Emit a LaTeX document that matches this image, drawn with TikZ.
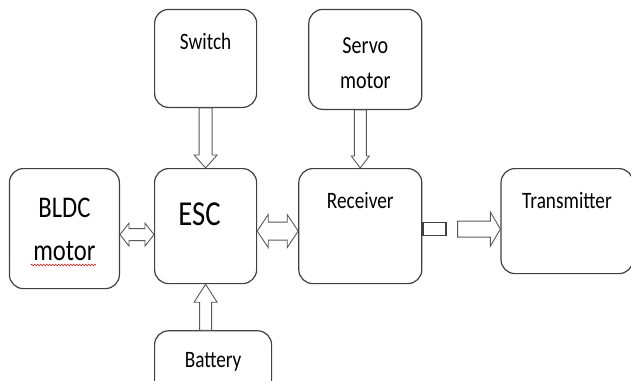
\documentclass[tikz,border=0pt]{standalone}
\usepackage{fontspec}
\setmainfont{Carlito}[FakeStretch=0.82]
\usetikzlibrary{positioning}
\usetikzlibrary{calc}
\usetikzlibrary{decorations.pathmorphing}

\begin{document}
\begin{tikzpicture}[x=1pt, y=-1pt]
	\tikzset{
		blocknode/.style={rectangle, rounded corners=14pt, draw=black!75, line width=1.2pt, inner sep=0pt},
		blocktext/.style={anchor=base, inner sep=0pt, align=center, text=black, font=\fontsize{23.5}{34}\selectfont},
		arrowline/.style={draw=black!65, line width=0.9pt, fill=white},
		blk shaft/.store in=\shaftw, blk head/.store in=\headw, blk tip/.store in=\tipl,
		blk shaft=6pt, blk head=11pt, blk tip=12pt,
		single block/.style={arrowline, to path={
			($(\tikztostart)!\shaftw!90:(\tikztotarget)$)
			-- ($($(\tikztotarget)!\tipl!(\tikztostart)$)!\shaftw!-90:(\tikztostart)$)
			-- ($($(\tikztotarget)!\tipl!(\tikztostart)$)!\headw!-90:(\tikztostart)$)
			-- (\tikztotarget)
			-- ($($(\tikztotarget)!\tipl!(\tikztostart)$)!\headw!90:(\tikztostart)$)
			-- ($($(\tikztotarget)!\tipl!(\tikztostart)$)!\shaftw!90:(\tikztostart)$)
			-- ($(\tikztostart)!\shaftw!-90:(\tikztotarget)$)
			-- cycle}},
		double block/.style={arrowline, to path={
			(\tikztostart)
			-- ($($(\tikztostart)!\tipl!(\tikztotarget)$)!\headw!90:(\tikztotarget)$)
			-- ($($(\tikztostart)!\tipl!(\tikztotarget)$)!\shaftw!90:(\tikztotarget)$)
			-- ($($(\tikztotarget)!\tipl!(\tikztostart)$)!\shaftw!-90:(\tikztostart)$)
			-- ($($(\tikztotarget)!\tipl!(\tikztostart)$)!\headw!-90:(\tikztostart)$)
			-- (\tikztotarget)
			-- ($($(\tikztotarget)!\tipl!(\tikztostart)$)!\headw!90:(\tikztostart)$)
			-- ($($(\tikztotarget)!\tipl!(\tikztostart)$)!\shaftw!90:(\tikztostart)$)
			-- ($($(\tikztostart)!\tipl!(\tikztotarget)$)!\shaftw!-90:(\tikztotarget)$)
			-- ($($(\tikztostart)!\tipl!(\tikztotarget)$)!\headw!-90:(\tikztotarget)$)
			-- cycle}},
	}
	\useasboundingbox (0,0) rectangle (631,380);
	\clip (0,0) rectangle (631,380);

	\node[blocknode, minimum width=102pt, minimum height=115pt, anchor=north west,
		label={[blocktext, font=\fontsize{35}{35}\selectfont, xshift=-6pt, yshift=-57pt]north:ESC}] (esc) at (154,168) {};
	\node[blocknode, minimum width=102pt, minimum height=98pt, above=60pt of esc,
		label={[blocktext, yshift=-41pt]north:Switch}] (switch) {};
	\node[blocknode, minimum width=117pt, minimum height=66pt, below=46pt of esc.south west, anchor=north west,
		label={[blocktext, yshift=-37pt]north:Battery}] (battery) {};
	\node[blocknode, minimum width=110pt, minimum height=120pt, left=34pt of esc.north west, anchor=north east,
		label={[blocktext, font=\fontsize{30}{43}\selectfont, yshift=-92pt]north:BLDC\\motor}] (bldc) {};
	\node[blocknode, minimum width=123pt, minimum height=115pt, right=41pt of esc.north east, anchor=north west,
		label={[blocktext, yshift=-40pt]north:Receiver}] (receiver) {};
	\node[blocknode, minimum width=113pt, minimum height=100pt, above=58pt of receiver.north east, anchor=south east,
		label={[blocktext, font=\fontsize{24.4}{35}\selectfont, yshift=-80pt]north:Servo\\motor}] (servo) {};
	\node[blocknode, minimum width=132pt, minimum height=105pt, right=78pt of receiver.north east, anchor=north west,
		label={[blocktext, yshift=-40pt]north:Transmitter}] (transmitter) {};
	\node[blocknode, sharp corners, minimum width=23pt, minimum height=13pt, right=0pt of receiver.east, yshift=-3pt] (port) {};

	\draw[single block, blk shaft=6.5pt, blk head=11.5pt, blk tip=13pt] (switch.south) to (esc.north);
	\draw[single block, blk shaft=6pt, blk head=9pt, blk tip=12pt] (servo.south -| receiver.north) to (receiver.north);
	\draw[single block, blk shaft=6pt, blk head=11.5pt, blk tip=18pt] (esc.south |- battery.north) to (esc.south);
	\coordinate (bldc-out) at ([yshift=-6pt]bldc.east);
	\draw[double block, blk shaft=6pt, blk head=11.5pt, blk tip=9pt] (bldc-out) to (bldc-out -| esc.west);
	\coordinate (esc-out) at ([yshift=-5pt]esc.east);
	\draw[double block, blk shaft=9pt, blk head=16.5pt, blk tip=11pt] (esc-out) to (esc-out -| receiver.west);
	\coordinate (port-out) at ([xshift=11pt]port.east);
	\draw[single block, blk shaft=8pt, blk head=17pt, blk tip=10pt] (port-out) to (port-out -| transmitter.west);

	\draw[red, line width=0.6pt, decorate, decoration={snake, amplitude=0.8pt, segment length=3pt}]
		($(bldc.north west)+(22,97)$) -- ($(bldc.north west)+(87,97)$);
\end{tikzpicture}
\end{document}
